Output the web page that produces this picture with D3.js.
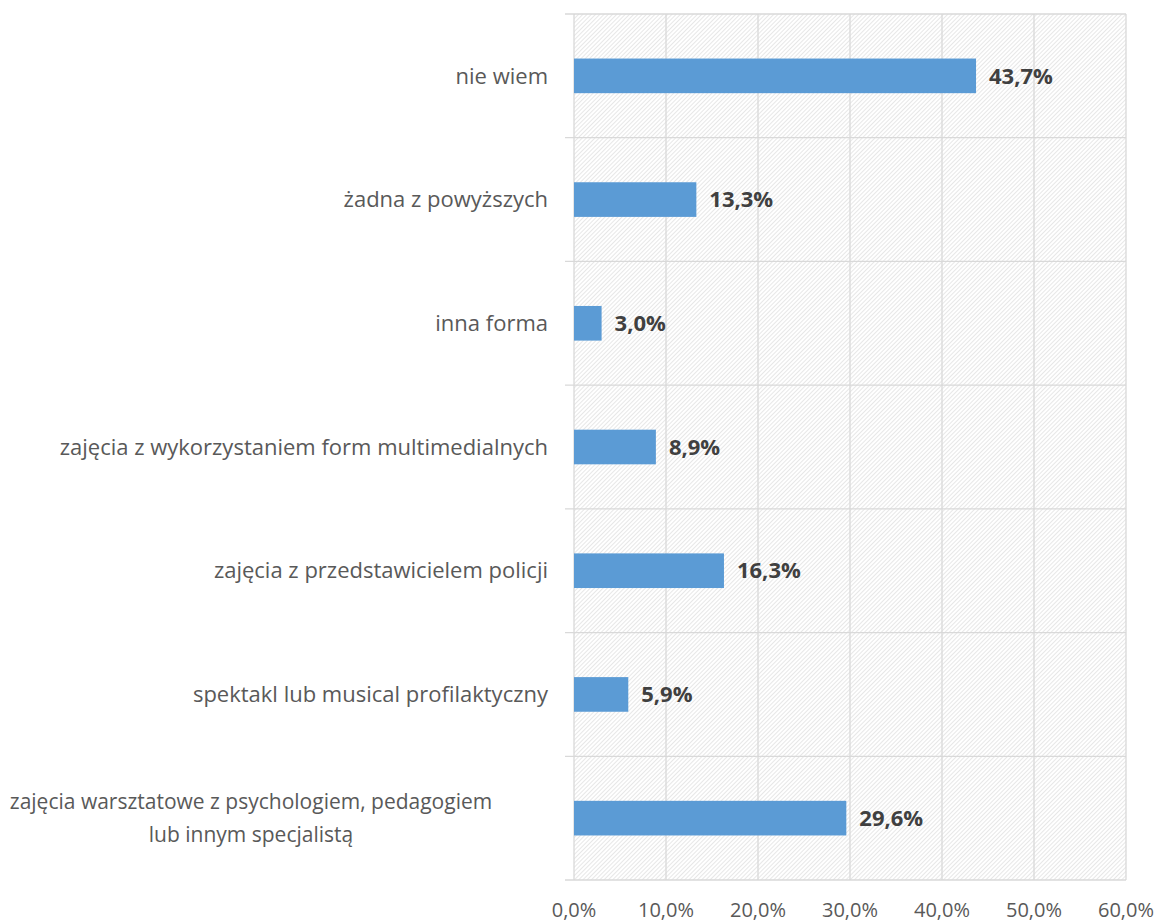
<!DOCTYPE html>
<html>
<head>
<meta charset="utf-8">
<script src="https://cdn.jsdelivr.net/npm/d3@7"></script>
<style>
  body { margin: 0; background: #fff; }
  text { font-family: "Open Sans", sans-serif; }
</style>
</head>
<body>
<script>
// data
var categories = [
  "nie wiem",
  "żadna z powyższych",
  "inna forma",
  "zajęcia z wykorzystaniem form multimedialnych",
  "zajęcia z przedstawicielem policji",
  "spektakl lub musical profilaktyczny",
  "zajęcia warsztatowe z psychologiem, pedagogiem|lub innym specjalistą"
];
var values = [43.7, 13.3, 3.0, 8.9, 16.3, 5.9, 29.6];
var ticks = [0, 10, 20, 30, 40, 50, 60];

var W = 1158, H = 923;
var margin = {top: 14, right: 32, bottom: 43, left: 574},
    width = W - margin.left - margin.right,
    height = H - margin.top - margin.bottom;

var svg = d3.select("body")
  .append("svg")
    .attr("width", W)
    .attr("height", H);

// hatch pattern
var defs = svg.append("defs");
defs.append("pattern")
    .attr("id", "hatch")
    .attr("patternUnits", "userSpaceOnUse")
    .attr("width", 3)
    .attr("height", 3)
    .attr("patternTransform", "rotate(45)")
  .append("line")
    .attr("x1", 0).attr("y1", 0)
    .attr("x2", 0).attr("y2", 3)
    .attr("stroke", "#d0d0d0")
    .attr("stroke-width", 1);

var g = svg.append("g")
  .attr("transform", "translate(" + margin.left + "," + margin.top + ")");

var x = d3.scaleLinear()
  .domain([0, 60])
  .range([0, width]);

var y = d3.scaleBand()
  .domain(categories)
  .range([0, height])
  .paddingInner(0.72)
  .paddingOuter(0.36);

var bandY = d3.scaleBand()
  .domain(categories)
  .range([0, height]);

// background
g.append("rect")
  .attr("width", width)
  .attr("height", height)
  .attr("fill", "url(#hatch)");

// vertical gridlines
g.selectAll(".vgrid")
  .data(ticks)
  .enter()
  .append("line")
    .attr("x1", d => x(d)).attr("x2", d => x(d))
    .attr("y1", 0).attr("y2", height)
    .attr("stroke", "#d9d9d9")
    .attr("stroke-width", 1.3);

// horizontal separators (with tick marks left of axis)
var seps = categories.map(c => bandY(c)).concat([height]);
g.selectAll(".hgrid")
  .data(seps)
  .enter()
  .append("line")
    .attr("x1", -9).attr("x2", width)
    .attr("y1", d => d).attr("y2", d => d)
    .attr("stroke", "#d9d9d9")
    .attr("stroke-width", 1.3);

// bars
g.selectAll(".bar")
  .data(values)
  .enter()
  .append("rect")
    .attr("x", 0)
    .attr("y", (d, i) => y(categories[i]))
    .attr("width", d => x(d))
    .attr("height", y.bandwidth())
    .attr("fill", "#5b9bd5");

// value labels
g.selectAll(".val")
  .data(values)
  .enter()
  .append("text")
    .attr("x", d => x(d) + 13)
    .attr("y", (d, i) => y(categories[i]) + y.bandwidth() / 2)
    .attr("dy", "0.35em")
    .attr("font-size", 22)
    .attr("font-weight", "bold")
    .attr("fill", "#404040")
    .text(d => d.toFixed(1).replace(".", ",") + "%");

// category labels
categories.forEach(function(c) {
  var lines = c.split("|");
  var cy = bandY(c) + bandY.bandwidth() / 2;
  var t = g.append("text")
    .attr("font-size", 22)
    .attr("fill", "#595959");
  if (lines.length === 1) {
    t.attr("x", -26).attr("y", cy).attr("dy", "0.35em")
      .attr("text-anchor", "end")
      .text(lines[0]);
  } else {
    t.attr("font-size", 21);
    var cx = -323;
    lines.forEach(function(l, k) {
      t.append("tspan")
        .attr("x", cx)
        .attr("y", cy + (k - (lines.length - 1) / 2) * 33)
        .attr("dy", "0.35em")
        .attr("text-anchor", "middle")
        .text(l);
    });
  }
});

// x tick labels
g.selectAll(".tick")
  .data(ticks)
  .enter()
  .append("text")
    .attr("x", d => x(d))
    .attr("y", height + 30)
    .attr("dy", "0.35em")
    .attr("text-anchor", "middle")
    .attr("font-size", 20)
    .attr("fill", "#595959")
    .text(d => d.toFixed(1).replace(".", ",") + "%");
</script>
</body>
</html>
